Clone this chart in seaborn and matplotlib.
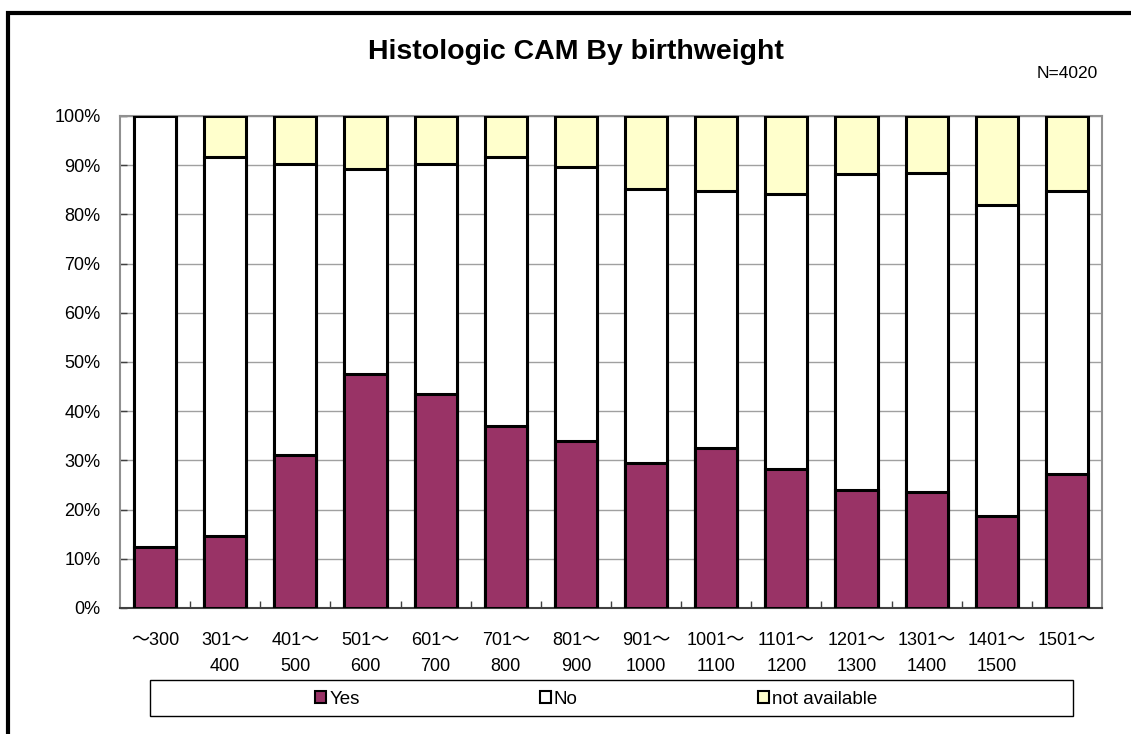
import matplotlib.pyplot as plt
import pandas as pd
import seaborn as sns
from matplotlib.patches import Patch, Rectangle
from matplotlib.ticker import FixedLocator, PercentFormatter

categories = ['～300', '301～\n400', '401～\n500', '501～\n600', '601～\n700',
              '701～\n800', '801～\n900', '901～\n1000', '1001～\n1100',
              '1101～\n1200', '1201～\n1300', '1301～\n1400', '1401～\n1500',
              '1501～']
yes = [12.4, 14.6, 31.1, 47.6, 43.5, 37.0, 33.9, 29.5, 32.5, 28.3, 24.0, 23.6, 18.7, 27.2]
no = [87.6, 77.1, 59.1, 41.6, 46.7, 54.7, 55.7, 55.7, 52.3, 55.8, 64.2, 64.8, 63.2, 57.6]
na = [0.0, 8.3, 9.8, 10.8, 9.8, 8.3, 10.4, 14.8, 15.2, 15.9, 11.8, 11.6, 18.1, 15.2]

df = pd.DataFrame({'cat': categories, 'Yes': yes, 'No': no, 'NA': na})
df['yes_no'] = df['Yes'] + df['No']
df['total'] = df['yes_no'] + df['NA']

sns.set_style("white")
plt.rcParams['font.family'] = ['Liberation Sans', 'Noto Sans CJK JP', 'DejaVu Sans']
plt.rcParams['text.color'] = 'black'
plt.rcParams['xtick.color'] = 'black'
plt.rcParams['ytick.color'] = 'black'

fig = plt.figure(figsize=(11.31, 7.34), dpi=100)
ax = fig.add_axes([120 / 1131, 1 - 608 / 734, 982 / 1131, 492 / 734])

c_yes = '#993366'
c_no = '#ffffff'
c_na = '#ffffcc'

# stack by overlaying cumulative heights, tallest first
for col, c in [('total', c_na), ('yes_no', c_no), ('Yes', c_yes)]:
    sns.barplot(data=df, x='cat', y=col, color=c, saturation=1, width=0.6,
                edgecolor='black', linewidth=2.2, ax=ax, zorder=3)

ax.set_xlim(-0.5, len(categories) - 0.5)
ax.set_ylim(0, 100)
ax.set_yticks(range(0, 101, 10))
ax.yaxis.set_major_formatter(PercentFormatter(decimals=0))
ax.yaxis.grid(True, color='#a0a0a0', linewidth=1, zorder=0)
ax.set_axisbelow(True)
ax.set_xlabel('')
ax.set_ylabel('')

ax.tick_params(axis='y', direction='in', length=5, width=1, color='#404040',
               labelsize=13, pad=14, left=True)
ax.tick_params(axis='x', which='major', length=0, labelsize=13, pad=17)
ax.xaxis.set_minor_locator(FixedLocator([i + 0.5 for i in range(len(categories) - 1)]))
ax.tick_params(axis='x', which='minor', direction='in', length=5, width=1,
               color='#404040', bottom=True)
for lab in ax.get_xticklabels():
    lab.set_linespacing(1.75)
    lab.set_verticalalignment('top')

for side in ['left', 'top', 'right']:
    ax.spines[side].set_color('#909090')
    ax.spines[side].set_linewidth(1.5)
ax.spines['bottom'].set_color('#404040')
ax.spines['bottom'].set_linewidth(1.5)

fig.text(576 / 1131, 1 - 52 / 734, 'Histologic CAM By birthweight',
         ha='center', va='center', fontsize=20.5, fontweight='bold')
fig.text(1098 / 1131, 1 - 73 / 734, 'N=4020', ha='right', va='center', fontsize=12.5)

# outer chart frame (cut at right and bottom)
fig.patches.append(Rectangle((8 / 1131, -0.1), 1.2, 1 - 13 / 734 + 0.1,
                             transform=fig.transFigure, fill=False,
                             edgecolor='black', linewidth=3))

# legend box
fig.patches.append(Rectangle((150 / 1131, 1 - 716 / 734), 923 / 1131, 36 / 734,
                             transform=fig.transFigure, fill=False,
                             edgecolor='black', linewidth=1))
handles = [Patch(facecolor=c_yes, edgecolor='black', linewidth=1.5, label='Yes'),
           Patch(facecolor=c_no, edgecolor='black', linewidth=1.5, label='No'),
           Patch(facecolor=c_na, edgecolor='black', linewidth=1.5, label='not available')]
fig.legend(handles=handles, loc='center', bbox_to_anchor=(596 / 1131, 1 - 699 / 734),
           ncol=3, frameon=False, fontsize=13.5, handlelength=0.6, handleheight=0.6,
           handletextpad=0.15, columnspacing=9.6)

fig.savefig('out.png', dpi=100)
